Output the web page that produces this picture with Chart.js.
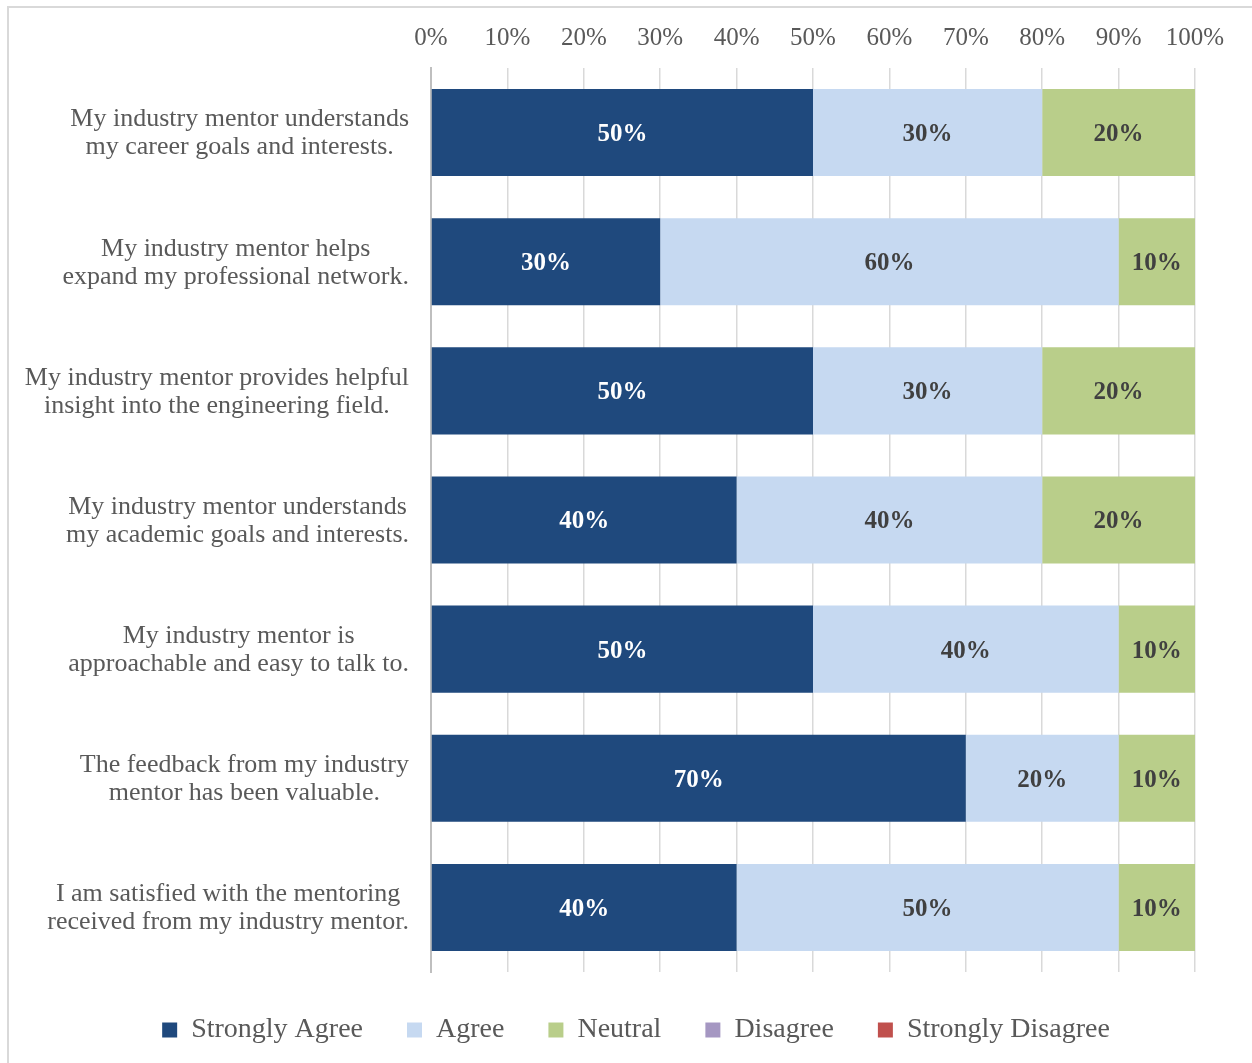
<!DOCTYPE html>
<html>
<head>
<meta charset="utf-8">
<script src="https://cdn.jsdelivr.net/npm/chart.js@4.4.1/dist/chart.umd.min.js"></script>
<style>
  html, body { margin: 0; padding: 0; background: #fff; overflow: hidden; }
  #frame { position: absolute; left: 7px; top: 6px; width: 1300px; height: 1100px; border: 2px solid #D9D9D9; box-sizing: border-box; }
  #wrap { position: absolute; left: 0; top: 0; width: 1252px; height: 1063px; }
</style>
</head>
<body>
<div id="frame"></div>
<div id="wrap"><canvas id="chart"></canvas></div>
<script>
// survey statements, two lines each like the original
const statements = [
  ['My industry mentor understands', 'my career goals and interests.'],
  ['My industry mentor helps', 'expand my professional network.'],
  ['My industry mentor provides helpful', 'insight into the engineering field.'],
  ['My industry mentor understands', 'my academic goals and interests.'],
  ['My industry mentor is', 'approachable and easy to talk to.'],
  ['The feedback from my industry', 'mentor has been valuable.'],
  ['I am satisfied with the mentoring', 'received from my industry mentor.']
];

const seriesNames = ['Strongly Agree', 'Agree', 'Neutral', 'Disagree', 'Strongly Disagree'];
const stronglyAgree    = [50, 30, 50, 40, 50, 70, 40];
const agree            = [30, 60, 30, 40, 40, 20, 50];
const neutral          = [20, 10, 20, 20, 10, 10, 10];
const disagree         = [0, 0, 0, 0, 0, 0, 0];
const stronglyDisagree = [0, 0, 0, 0, 0, 0, 0];
const tickValues = [0, 10, 20, 30, 40, 50, 60, 70, 80, 90, 100];

const seriesColors = ['#1F497D', '#C6D9F1', '#B9CE8A', '#A597C2', '#C0504D'];
const allSeries = [stronglyAgree, agree, neutral, disagree, stronglyDisagree];

const SERIF = '"Liberation Serif", "Times New Roman", serif';

// category labels: lines centred within a right-aligned block (Excel style)
const categoryLabels = {
  id: 'categoryLabels',
  afterDraw(chart) {
    const { ctx, scales: { y } } = chart;
    ctx.save();
    ctx.font = '26px ' + SERIF;
    ctx.fillStyle = '#595959';
    ctx.textAlign = 'center';
    ctx.textBaseline = 'middle';
    const lineH = 28;
    const right = chart.chartArea.left - 22;
    statements.forEach((lines, i) => {
      const w = Math.max(...lines.map(l => ctx.measureText(l).width));
      const cx = right - w / 2;
      const cy = y.getPixelForValue(i) + 1;
      lines.forEach((l, j) => ctx.fillText(l, cx, cy + (j - (lines.length - 1) / 2) * lineH));
    });
    ctx.restore();
  }
};

// value labels in the middle of each segment
const segmentLabels = {
  id: 'segmentLabels',
  afterDatasetsDraw(chart) {
    const { ctx } = chart;
    ctx.save();
    ctx.font = 'bold 25px ' + SERIF;
    ctx.textAlign = 'center';
    ctx.textBaseline = 'middle';
    chart.data.datasets.forEach((ds, di) => {
      const meta = chart.getDatasetMeta(di);
      ctx.fillStyle = di === 0 ? '#FFFFFF' : '#404040';
      meta.data.forEach((bar, i) => {
        const v = ds.data[i];
        if (!v) return;
        const p = bar.getCenterPoint();
        ctx.fillText(v + '%', p.x, p.y + 2);
      });
    });
    ctx.restore();
  }
};

new Chart(document.getElementById('chart'), {
  type: 'bar',
  data: {
    labels: statements,
    datasets: seriesNames.map((name, i) => ({
      label: name,
      data: allSeries[i],
      backgroundColor: seriesColors[i],
      borderWidth: 0,
      categoryPercentage: 1,
      barPercentage: 0.674
    }))
  },
  options: {
    indexAxis: 'y',
    responsive: true,
    maintainAspectRatio: false,
    animation: false,
    layout: { padding: { left: 77, right: 57, top: 8, bottom: 9 } },
    plugins: {
      tooltip: { enabled: false },
      legend: {
        position: 'bottom',
        labels: {
          boxWidth: 15,
          boxHeight: 15,
          padding: 44,
          color: '#595959',
          font: { family: SERIF, size: 28 }
        }
      }
    },
    scales: {
      x: {
        position: 'top',
        stacked: true,
        min: 0,
        max: 100,
        afterBuildTicks(scale) {
          scale.ticks = tickValues.map(v => ({ value: v }));
        },
        afterFit(scale) { scale.height = 60; },
        ticks: {
          padding: 15,
          color: '#595959',
          font: { family: SERIF, size: 25 },
          callback: v => v + '%'
        },
        grid: { color: '#D9D9D9', lineWidth: 1.5, drawTicks: false },
        border: { display: false }
      },
      y: {
        stacked: true,
        afterFit(scale) { scale.width = 354; },
        ticks: { display: false },
        grid: { display: false },
        border: { display: true, color: '#BFBFBF', width: 2 }
      }
    }
  },
  plugins: [categoryLabels, segmentLabels]
});
</script>
</body>
</html>
